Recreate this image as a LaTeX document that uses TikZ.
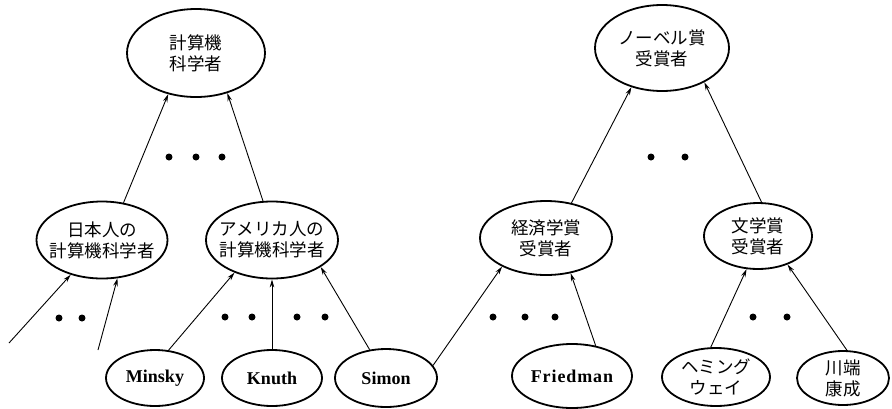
\documentclass[tikz,border=0pt]{standalone}
\usepackage{fontspec}
\newfontfamily\jpfont{Noto Sans CJK JP}
\newfontfamily\latfont{Liberation Serif}
\usetikzlibrary{shapes.geometric,arrows.meta}
\tikzset{
  ell/.style={draw, ellipse, line width=1.8pt, inner xsep=-12pt, inner ysep=-3pt, align=center},
  jp/.style={font=\jpfont\fontsize{17.5pt}{21pt}\selectfont},
  lat/.style={font=\latfont\bfseries\fontsize{18pt}{21pt}\selectfont},
  arr/.style={-{Stealth[length=8pt,width=4.5pt]}, line width=0.9pt},
  dotmark/.style={fill=black}
}
\begin{document}
\begin{tikzpicture}[x=1pt,y=-1pt]
\fill[white] (0,0) rectangle (892,408);
\useasboundingbox (0,0) rectangle (892,408);

% upper level
\node[ell,jp,minimum width=138pt,minimum height=88pt] (cs) at (196,53) {計算機\\科学者};
\node[ell,jp,minimum width=134pt,minimum height=86pt] (nb) at (662,48) {ノーベル賞\\受賞者};

% middle level
\node[ell,jp,minimum width=131pt,minimum height=77pt] (jpn) at (102,240) {日本人の\\計算機科学者};
\node[ell,jp,minimum width=132pt,minimum height=77pt] (amer) at (272,240) {アメリカ人の\\計算機科学者};
\node[ell,jp,minimum width=132pt,minimum height=74pt] (econ) at (546,238) {経済学賞\\受賞者};
\node[ell,jp,minimum width=108pt,minimum height=66pt] (lit) at (758,236) {文学賞\\受賞者};

% bottom level
\node[ell,lat,minimum width=98pt,minimum height=56pt] (minsky) at (155,378) {Minsky};
\node[ell,lat,minimum width=100pt,minimum height=56pt] (knuth) at (272,378) {Knuth};
\node[ell,lat,minimum width=102pt,minimum height=58pt] (simon) at (386,378) {Simon};
\node[ell,lat,minimum width=120pt,minimum height=64pt] (fried) at (572,376) {\addfontfeature{LetterSpace=5}Friedman};
\node[ell,jp,minimum width=108pt,minimum height=58pt] (hem) at (716,377) {ヘミング\\ウェイ};
\node[ell,jp,minimum width=92pt,minimum height=54pt] (kaw) at (843,378) {川端\\康成};

\coordinate (s1) at (9,343);
\coordinate (s2) at (98,350);

% connectors
\draw[arr] (jpn.60) -- (cs.236);
\draw[arr] (amer.103) -- (cs.308);
\draw[arr] (econ.54) -- (nb.232);
\draw[arr] (lit.84) -- (nb.321);
\draw[arr] (s1) -- (jpn.228);
\draw[arr] (s2) -- (jpn.292);
\draw[arr] (minsky.64) -- (amer.221);
\draw[arr] (knuth.north) -- (amer.south);
\draw[arr] (simon.120) -- (amer.331);
\draw[arr] (simon.15) -- (econ.213);
\draw[arr] (fried.52) -- (econ.305);
\draw[arr] (hem.100) -- (lit.251);
\draw[arr] (kaw.82) -- (lit.316);

% ellipsis dots
\foreach \x/\y in {169/157,196/157,222/157, 651/157,685/157,
                   59/318,82/318, 225/317,252/317, 297/317,325/317,
                   493/317,525/317,555/317, 753/317,787/317}
  \fill[dotmark] (\x,\y) circle (3.5pt);
\end{tikzpicture}
\end{document}
